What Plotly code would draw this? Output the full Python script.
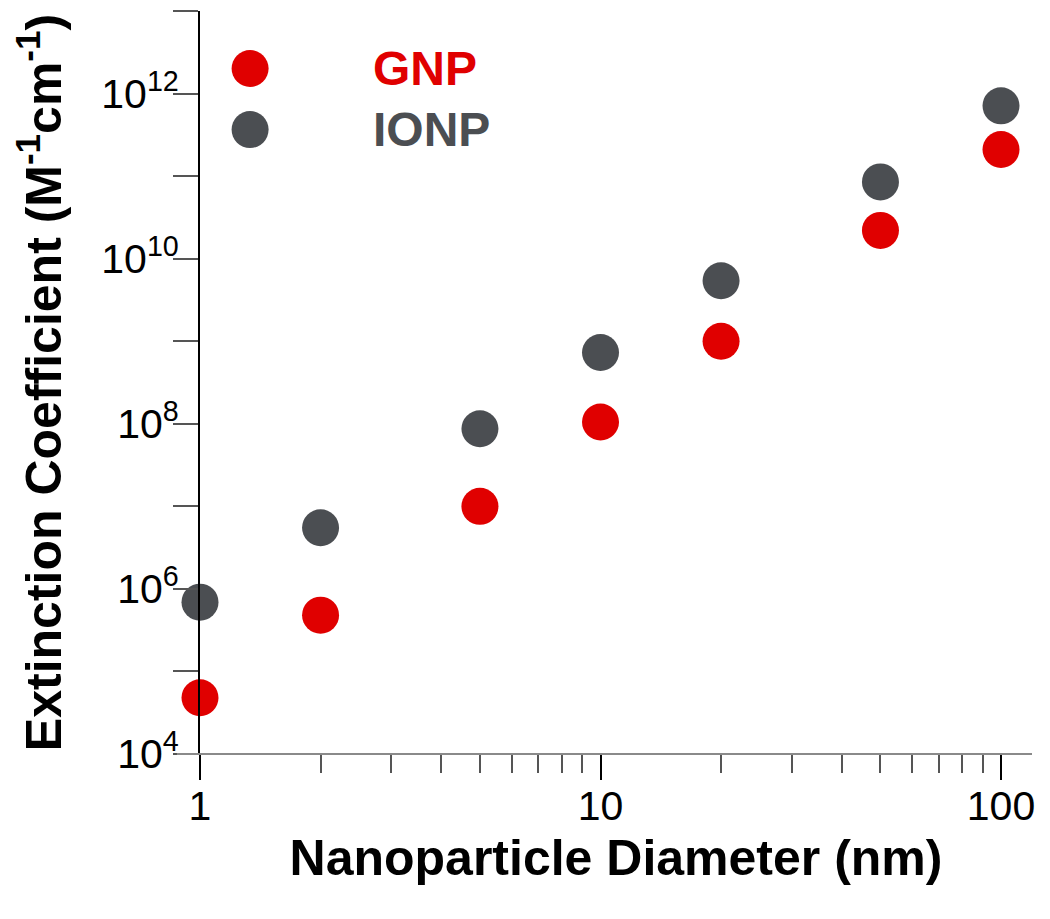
import numpy as np
import plotly.graph_objects as go

# particle diameters (nm) and extinction coefficients (M^-1 cm^-1)
diameter = [1, 2, 5, 10, 20, 50, 100]
gnp = [4.8e4, 4.8e5, 1.0e7, 1.05e8, 1.0e9, 2.2e10, 2.1e11]
ionp = [6.9e5, 5.5e6, 8.7e7, 7.3e8, 5.4e9, 8.5e10, 7.1e11]

RED = "#e00000"
GREY = "#4b4e52"
FONT = "Arial, Liberation Sans, sans-serif"

y_ticks = [10 ** k for k in range(4, 14)]
y_text = ["10<sup>%d</sup>" % k if k % 2 == 0 else "" for k in range(4, 14)]
x_minor = [2, 3, 4, 5, 6, 7, 8, 9, 20, 30, 40, 50, 60, 70, 80, 90]

fig = go.Figure()
fig.add_trace(go.Scatter(x=diameter, y=ionp, mode="markers", name="IONP",
                         marker=dict(size=37, color=GREY), cliponaxis=False))
fig.add_trace(go.Scatter(x=diameter, y=gnp, mode="markers", name="GNP",
                         marker=dict(size=37, color=RED), cliponaxis=False))

# page body has an 8px margin, so margins are trimmed to compensate
fig.update_layout(
    width=1050, height=919,
    margin=dict(l=192, r=26, t=3, b=173),
    plot_bgcolor="white", paper_bgcolor="white",
    showlegend=False,
    font=dict(family=FONT, color="black"),
)

fig.update_xaxes(
    type="log", range=[0, np.log10(119.5)], automargin=False,
    showline=False, showgrid=False, zeroline=False,
    tickvals=[1, 10, 100], ticktext=["1", "10", "100"],
    ticks="outside", ticklen=25, tickwidth=2, tickcolor="black",
    tickfont=dict(size=41), ticklabelstandoff=-9,
    minor=dict(tickvals=x_minor, ticks="outside", ticklen=18, tickwidth=2,
               tickcolor="#555555", showgrid=False),
    title=dict(text="<b>Nanoparticle Diameter (nm)</b>", font=dict(size=50), standoff=11),
)
fig.update_yaxes(
    type="log", range=[4, 13], automargin=False,
    showline=True, linecolor="black", linewidth=2,
    showgrid=False, zeroline=False,
    tickvals=y_ticks, ticktext=y_text,
    ticks="outside", ticklen=25, tickwidth=2, tickcolor="#555555",
    tickfont=dict(size=41), ticklabelstandoff=-14,
    title=dict(text="<b>Extinction Coefficient (M<sup>-1</sup>cm<sup>-1</sup>)</b>",
               font=dict(size=50), standoff=43),
)

# x axis line runs a little past x = 1
fig.add_shape(type="line", xref="paper", yref="paper", x0=-0.0277, x1=1, y0=0, y1=0,
              line=dict(color="#8a8a8a", width=2))

# legend keys
for name, col, yy in [("GNP", RED, 0.9226), ("IONP", GREY, 0.8404)]:
    fig.add_shape(type="circle", xref="paper", yref="paper",
                  xsizemode="pixel", ysizemode="pixel",
                  xanchor=0.0602, yanchor=yy, x0=-18.5, x1=18.5, y0=-18.5, y1=18.5,
                  fillcolor=col, line=dict(width=0))
    fig.add_annotation(x=0.205, y=yy, xref="paper", yref="paper",
                       xanchor="left", yanchor="middle", showarrow=False,
                       text="<b>%s</b>" % name, font=dict(size=48, color=col))

fig.write_html("out.html")
